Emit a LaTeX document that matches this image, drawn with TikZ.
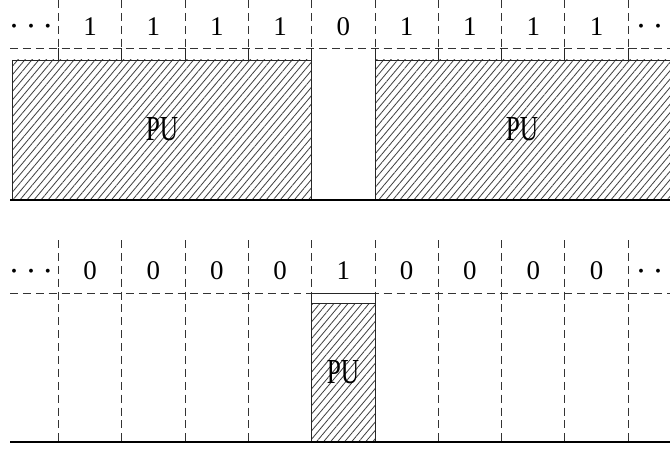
\documentclass[tikz,border=0pt]{standalone}
\usepackage{fontspec}
\setmainfont{Liberation Serif}
\usetikzlibrary{patterns.meta}

\tikzset{
  dashline/.style={draw=black!80, line width=0.85pt, dash pattern=on 6.8pt off 4.2pt},
  ground/.style={draw=black, line width=2.5pt},
  pubox/.style={draw=black!85, line width=0.7pt,
    pattern={Lines[angle=50, distance=4.6pt, line width=0.7pt]}, pattern color=black!75},
  tick/.style={draw=black!85, line width=0.7pt},
  digit/.style={font=\fontsize{23}{25}\selectfont, inner sep=0pt},
  pulabel/.style={font=\fontsize{30}{32}\selectfont, inner sep=0pt},
  dots/.style={font=\fontsize{8}{8}\selectfont, inner sep=0pt}
}
\newcommand{\slotdots}{$\bullet\hspace{8.3pt}\bullet\hspace{8.3pt}\bullet$}

\begin{document}
\begin{tikzpicture}[x=0.03cm, y=-0.03cm]
\clip (0,0) rectangle (670,450);

% upper row: slots with PU busy
\foreach \x in {58.5,121.8,185.1,248.4,311.7,375,438.3,501.6,564.9,628.2}
  \draw[dashline] (\x,0) -- (\x,48);
\draw[dashline] (10,48) -- (670,48);
\draw[pubox] (12,60) rectangle (311.7,200);
\draw[pubox] (375,60) rectangle (690,200);
\foreach \x in {58.5,121.8,185.1,248.4,438.3,501.6,564.9,628.2}
  \draw[tick] (\x,48) -- (\x,60);
\draw[tick] (311.7,48) -- (311.7,60);
\draw[tick] (375,48) -- (375,60);
\draw[ground] (10,200) -- (670,200);

\node[dots] (tl) at (31,26) {\slotdots};
\node[dots] (tr) at (658,26) {\slotdots};
\foreach \v [count=\i] in {1,1,1,1,0,1,1,1,1}
  \node[digit] (t\i) at ({58.5+63.3*(\i-0.5)},27) {\v};
\node[pulabel] (pu1) at (162,129) {\scalebox{0.72}[1]{PU}};
\node[pulabel] (pu2) at (522,129) {\scalebox{0.72}[1]{PU}};

% lower row: one slot with PU
\foreach \x in {58.5,121.8,185.1,248.4,438.3,501.6,564.9,628.2}
  \draw[dashline] (\x,240) -- (\x,442);
\draw[dashline] (311.7,240) -- (311.7,293);
\draw[dashline] (375,240) -- (375,293);
\draw[dashline] (10,293) -- (670,293);
\draw[tick] (311.7,293) rectangle (375,442);
\draw[pubox] (311.7,303) rectangle (375,442);
\draw[ground] (10,442) -- (670,442);

\node[dots] (bl) at (31,271) {\slotdots};
\node[dots] (br) at (658,271) {\slotdots};
\foreach \v [count=\i] in {0,0,0,0,1,0,0,0,0}
  \node[digit] (b\i) at ({58.5+63.3*(\i-0.5)},271) {\v};
\node[pulabel] (pu3) at (343,372) {\scalebox{0.72}[1]{PU}};
\end{tikzpicture}
\end{document}
